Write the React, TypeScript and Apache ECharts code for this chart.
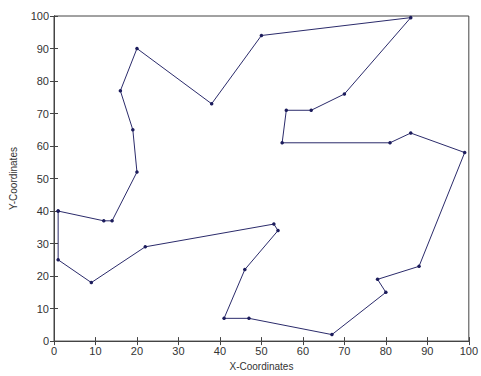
import React, { useEffect, useRef } from "react";
import * as echarts from "echarts";

const xs = [1, 12, 14, 20, 19, 16, 20, 38, 50, 86, 70, 62, 56, 55, 81, 86, 99, 88, 78, 80, 67, 47, 41, 46, 54, 53, 22, 9, 1, 1];
const ys = [40, 37, 37, 52, 65, 77, 90, 73, 94, 99.5, 76, 71, 71, 61, 61, 64, 58, 23, 19, 15, 2, 7, 7, 22, 34, 36, 29, 18, 25, 40];
const xTicks = [0, 10, 20, 30, 40, 50, 60, 70, 80, 90, 100];
const yTicks = [0, 10, 20, 30, 40, 50, 60, 70, 80, 90, 100];

export default function App() {
  const ref = useRef<HTMLDivElement>(null);
  useEffect(() => {
    if (!ref.current) return;
    const chart = echarts.init(ref.current, null, { renderer: "svg" });
    const axisCol = "#444";
    const font = "Liberation Sans, Arial, sans-serif";
    const baseAxis = {
      type: "value",
      min: 0,
      max: 100,
      interval: 10,
      splitLine: { show: false },
      axisLine: { show: true, lineStyle: { color: axisCol, width: 1 } },
      axisTick: { show: true, inside: true, length: 4, lineStyle: { color: axisCol } },
    };
    chart.setOption({
      animation: false,
      backgroundColor: "#fff",
      grid: { left: 54, right: 11, top: 16, bottom: 33, show: true, borderColor: axisCol, borderWidth: 1 },
      xAxis: [
        {
          ...baseAxis,
          position: "bottom",
          name: "X-Coordinates",
          nameLocation: "middle",
          nameGap: 19,
          nameTextStyle: { fontFamily: font, fontSize: 10, color: "#333" },
          axisLabel: { fontFamily: font, fontSize: 11, color: "#333", margin: 4, formatter: (v: number) => (xTicks.includes(v) ? String(v) : "") },
        },
        { ...baseAxis, position: "top", axisLabel: { show: false } },
      ],
      yAxis: [
        {
          ...baseAxis,
          position: "left",
          name: "Y-Coordinates",
          nameLocation: "middle",
          nameGap: 36,
          nameRotate: 90,
          nameTextStyle: { fontFamily: font, fontSize: 10, color: "#333" },
          axisLabel: { fontFamily: font, fontSize: 11, color: "#333", margin: 5, formatter: (v: number) => (yTicks.includes(v) ? String(v) : "") },
        },
        { ...baseAxis, position: "right", axisLabel: { show: false } },
      ],
      series: [
        {
          type: "line",
          data: xs.map((x, i) => [x, ys[i]]),
          symbol: "circle",
          symbolSize: 3.5,
          showSymbol: true,
          lineStyle: { color: "#2b2b6b", width: 1 },
          itemStyle: { color: "#1c1c5c" },
          xAxisIndex: 0,
          yAxisIndex: 0,
        },
      ],
    });
    return () => chart.dispose();
  }, []);
  return <div ref={ref} style={{ width: 481, height: 376, position: "absolute", left: 0, top: 0 }} />;
}
